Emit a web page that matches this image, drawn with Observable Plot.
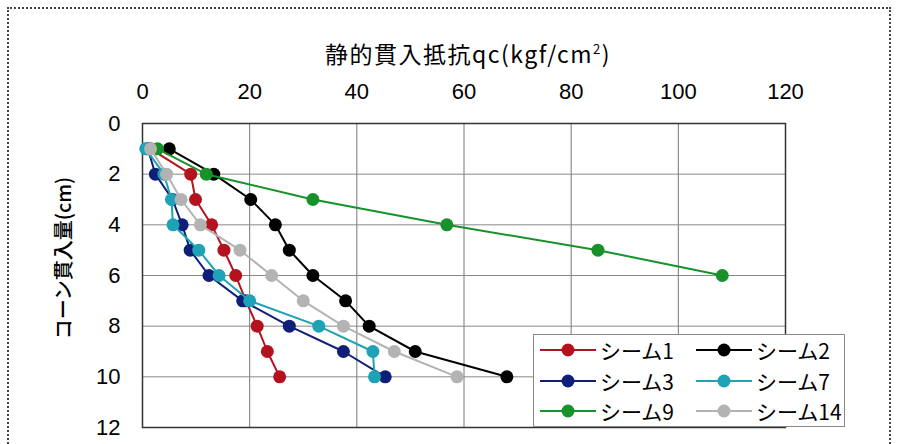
<!DOCTYPE html>
<html>
<head>
<meta charset="utf-8">
<script src="https://cdn.jsdelivr.net/npm/d3@7"></script>
<script src="https://cdn.jsdelivr.net/npm/@observablehq/plot@0.6"></script>
<style>
  html, body { margin: 0; padding: 0; background: #fff; }
  #wrap { position: relative; width: 900px; height: 444px; overflow: hidden; background: #fff; }
  #border { position: absolute; left: 7px; top: 7px; width: 884px; height: 460px; border: 2px dotted #444; box-sizing: border-box; }
  #chart { position: absolute; left: 0; top: 0; }
  #title { position: absolute; left: 0; width: 936px; top: 36px; text-align: center;
           font-family: "Noto Sans CJK JP", sans-serif; font-size: 23px; color: #000; letter-spacing: 1.5px; }
  #ylabel { position: absolute; left: 62px; top: 258px; transform: translate(-50%, -50%) rotate(-90deg);
            white-space: nowrap; font-family: "Noto Sans CJK JP", sans-serif; font-size: 20px; color: #000; font-weight: 500; }
  #legend { position: absolute; left: 533px; top: 334px; width: 312px; height: 93px; box-sizing: border-box;
            background: #fff; border: 1px solid #888; }
  .item { position: absolute; display: flex; align-items: center; height: 30px;
          font-family: "Noto Sans CJK JP", sans-serif; font-size: 21px; color: #000; }
  .item svg { margin-right: 3px; }
</style>
</head>
<body>
<div id="wrap">
  <div id="border"></div>
  <div id="chart"></div>
  <div id="title">静的貫入抵抗qc(kgf/cm<sup style="font-size:13px">2</sup>)</div>
  <div id="ylabel">コーン貫入量(cm)</div>
  <div id="legend"></div>
</div>
<script>
// Depth (cm)
const depth = [1, 2, 3, 4, 5, 6, 7, 8, 9, 10];
// Static penetration resistance qc (kgf/cm2) per seam
const seam1  = [1.5, 9.0, 9.9, 12.9, 15.2, 17.4, 19.3, 21.4, 23.3, 25.6];
const seam2  = [5.0, 13.3, 20.2, 24.8, 27.4, 31.8, 37.9, 42.3, 50.9, 68.0];
const seam3  = [1.0, 2.4, 5.6, 7.4, 8.9, 12.4, 18.7, 27.4, 37.5, 45.3];
const seam7  = [0.6, 4.0, 5.4, 5.7, 10.5, 14.3, 20.0, 32.9, 43.0, 43.3];
const seam9  = [2.8, 11.9, 31.8, 56.8, 85.0, 108.2];
const seam14 = [1.5, 4.5, 7.2, 10.8, 18.2, 24.1, 30.0, 37.5, 47.0, 58.7];

const seriesNames  = ["シーム1", "シーム2", "シーム3", "シーム7", "シーム9", "シーム14"];
const seriesValues = [seam1, seam2, seam3, seam7, seam9, seam14];
const seriesColors = ["#b3121e", "#000000", "#0f1f78", "#1ea2b6", "#17922a", "#b3b3b3"];

const xTicks = [0, 20, 40, 60, 80, 100, 120];
const yTicks = [0, 2, 4, 6, 8, 10, 12];

const series = seriesNames.map((name, i) => ({
  name, color: seriesColors[i],
  data: seriesValues[i].map((v, j) => ({qc: v, depth: depth[j], name}))
}));

const marks = [
  Plot.gridX(xTicks, {stroke: "#777", strokeOpacity: 1, strokeWidth: 1}),
  Plot.gridY(yTicks, {stroke: "#888", strokeOpacity: 1, strokeWidth: 1}),
  Plot.frame({stroke: "#333", strokeWidth: 1.5}),
  Plot.axisX(xTicks, {anchor: "top", tickSize: 0, tickPadding: 25, fontSize: 22, label: null, fill: "#000"}),
  Plot.axisY(yTicks, {anchor: "left", tickSize: 0, tickPadding: 22, fontSize: 22, label: null, fill: "#000"})
];
for (const s of series) {
  marks.push(Plot.line(s.data, {x: "qc", y: "depth", stroke: s.color, strokeWidth: 2}));
  marks.push(Plot.dot(s.data, {x: "qc", y: "depth", fill: s.color, r: 6.5}));
}

const chart = Plot.plot({
  width: 900, height: 444,
  marginLeft: 142, marginRight: 115, marginTop: 123, marginBottom: 17,
  style: {fontFamily: "'Liberation Sans', Arial, sans-serif", fontSize: "22px", background: "transparent", color: "#000"},
  x: {domain: [0, 120]},
  y: {domain: [0, 12], reverse: true},
  marks
});
document.getElementById("chart").appendChild(chart);

// Legend
const legend = document.getElementById("legend");
const pos = [[5, 0], [161, 0], [5, 1], [161, 1], [5, 2], [161, 2]];
series.forEach((s, i) => {
  const [lx, row] = pos[i];
  const div = document.createElement("div");
  div.className = "item";
  div.style.left = lx + "px";
  div.style.top = (0 + row * 30.5) + "px";
  div.innerHTML = `<svg width="58" height="20"><line x1="1" y1="10" x2="57" y2="10" stroke="${s.color}" stroke-width="2"/><circle cx="29" cy="10" r="6.5" fill="${s.color}"/></svg><span>${s.name}</span>`;
  legend.appendChild(div);
});
</script>
</body>
</html>
